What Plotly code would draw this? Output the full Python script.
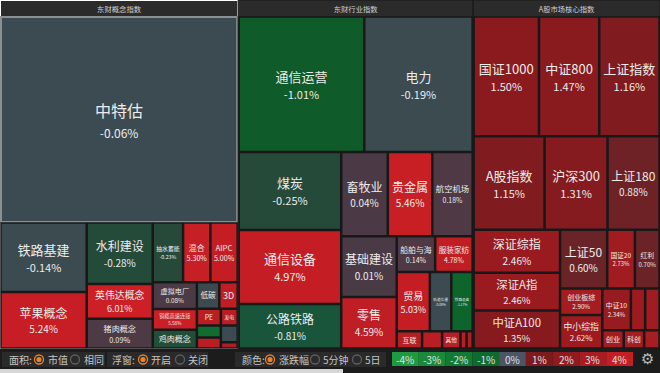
import plotly.graph_objects as go
import numpy as np

# ---------------- data ----------------
groups = ["东财概念指数", "东财行业指数", "A股市场核心指数"]

concept_names = ["中特估", "铁路基建", "苹果概念", "水利建设", "英伟达概念", "猪肉概念", "抽水蓄能",
                 "混合", "AIPC", "虚拟电厂", "铜缆高速连接", "鸡肉概念", "低碳", "3D", "PE", "",
                 "", "发电", "", ""]
concept_pct = [-0.06, -0.14, 5.24, -0.28, 6.01, 0.09, -0.23, 5.30, 5.00, 0.08, 5.58, -0.45,
               -0.10, 4.5, 4.2, -1.5, 4.0, 4.0, -0.05, 3.5]
concept_mcap = [47034, 5751, 4698, 3906, 2205, 1890, 1740, 1566, 1566, 1144, 880, 792, 572, 468,
                391, 276, 253, 272, 272, 100]

industry_names = ["通信运营", "电力", "煤炭", "通信设备", "公路铁路", "畜牧业", "贵金属", "航空机场",
                  "基础建设", "零售", "船舶与海", "服装家纺", "贸易", "轨道交通", "铁路设备", "互联",
                  "", "其他", "", ""]
industry_pct = [-1.01, -0.19, -0.25, 4.97, -0.81, 0.04, 5.46, 0.18, 0.01, 4.59, 0.14, 4.78, 5.03,
                -0.08, -1.17, 3.8, 4.0, 3.8, 4.0, 3.5]
industry_mcap = [16368, 14124, 7700, 7300, 4400, 3780, 3612, 3276, 3240, 2754, 1326, 1292, 1890,
                 1225, 1218, 418, 330, 304, 100, 100]

core_names = ["国证1000", "中证800", "上证指数", "A股指数", "沪深300", "上证180", "深证综指", "深证A指",
              "中证A100", "上证50", "国证20", "红利", "创业板综", "中小综指", "中证10", "", "",
              "创业", "科创", ""]
core_pct = [1.50, 1.47, 1.16, 1.15, 1.31, 0.88, 2.46, 2.46, 1.35, 0.60, 2.73, 0.70, 2.90, 2.62,
            2.34, 2.6, 2.7, 2.8, 2.9, 3.0]
core_mcap = [7540, 6960, 6960, 6390, 5670, 4680, 3569, 3154, 3154, 2668, 1566, 1392, 1080, 1360,
             1148, 574, 574, 378, 360, 270]

legend_ticks = ["-4%", "-3%", "-2%", "-1%", "0%", "1%", "2%", "3%", "4%"]

# ---------------- styling helpers ----------------
def hex2rgb(h):
    h = h.lstrip("#")
    return [int(h[i:i + 2], 16) for i in (0, 2, 4)]

NEG_X = [0, 0.2, 0.22, 0.5, 0.81, 1.0, 1.17, 2, 3, 4]
NEG_C = ["#3c4a51", "#3b4b50", "#26493a", "#1f4f37", "#18553a", "#0f5a29", "#0e652c",
         "#137a34", "#1a8a3a", "#1f9a40"]
POS_X = [0, 0.2, 0.6, 0.9, 1.15, 1.5, 2.5, 3, 4, 5, 6]
POS_C = ["#4a3a46", "#503944", "#6a2428", "#6e2226", "#801b1f", "#8a1a1e", "#9a1b1f",
         "#a81d21", "#b81e23", "#c41e24", "#cc2026"]

def pct_color(v):
    xs, cs = (NEG_X, NEG_C) if v < 0 else (POS_X, POS_C)
    a = abs(v)
    rgb = [int(round(np.interp(a, xs, [hex2rgb(c)[k] for c in cs]))) for k in range(3)]
    return "rgb(%d,%d,%d)" % tuple(rgb)

def font_size(area):
    if area > 20000:
        return 16, 12
    if area > 5000:
        return 13, 11
    if area > 2500:
        return 12, 10
    if area > 1000:
        return 10, 9
    return 9, 8

W, H = 660, 373
BAR = 24  # bottom control bar height in px

fig = go.Figure()
datasets = [(concept_names, concept_pct, concept_mcap),
            (industry_names, industry_pct, industry_mcap),
            (core_names, core_pct, core_mcap)]
totals = [sum(d[2]) for d in datasets]
grand = float(sum(totals))
x_edges = np.concatenate([[0], np.cumsum(totals) / grand])

for gi, (g, (names, pcts, caps)) in enumerate(zip(groups, datasets)):
    ids = ["root"]
    labels = [g]
    parents = [""]
    values = [0]
    colors = ["#2b2b2b"]
    texts = [g]
    fsizes = [10]
    fcolors = ["#cfcfcf"]
    lcolors = ["#181818"]
    lwidths = [1]
    for i, (n, p, c) in enumerate(zip(names, pcts, caps)):
        ids.append("n%d" % i)
        labels.append(n)
        parents.append("root")
        values.append(c)
        colors.append(pct_color(p))
        s1, s2 = font_size(c)
        fsizes.append(s1)
        fcolors.append("#ececec")
        if n == "":
            texts.append("")
        elif c >= 800:
            texts.append("%s<br><span style='font-size:%dpx'>%.2f%%</span>" % (n, s2, p))
        else:
            texts.append(n)
        if n == "中特估":
            lcolors.append("#8a8f92")
            lwidths.append(2)
        else:
            lcolors.append("#181818")
            lwidths.append(1.5)

    fig.add_trace(go.Treemap(
        ids=ids, labels=labels, parents=parents, values=values,
        branchvalues="remainder",
        sort=False,
        text=texts, textinfo="text",
        textposition="middle center",
        textfont=dict(family="Noto Sans CJK SC", color=fcolors, size=fsizes),
        marker=dict(colors=colors, line=dict(color=lcolors, width=lwidths),
                    pad=dict(t=17, l=1, r=1, b=1)),
        tiling=dict(pad=1, squarifyratio=1.618),
        pathbar=dict(visible=False),
        hoverinfo="skip",
        domain=dict(x=[x_edges[gi], x_edges[gi + 1]], y=[BAR / H, 1]),
    ))

# ---------------- bottom control bar ----------------
def X(px):
    return px / W
def Y(py):
    return 1 - py / H

shapes, annotations = [], []

def rect(x0, y0, x1, y1, fill):
    shapes.append(dict(type="rect", xref="paper", yref="paper", x0=X(x0), x1=X(x1),
                       y0=Y(y1), y1=Y(y0), fillcolor=fill, line=dict(width=0), layer="above"))

def text(x, y, s, color="#c4c4c4", size=10, anchor="left"):
    annotations.append(dict(x=X(x), y=Y(y), xref="paper", yref="paper", text=s, showarrow=False,
                            xanchor=anchor, yanchor="middle",
                            font=dict(family="Noto Sans CJK SC", size=size, color=color)))

def radio(cx, cy, on):
    r = 4.5
    shapes.append(dict(type="circle", xref="paper", yref="paper", x0=X(cx - r), x1=X(cx + r),
                       y0=Y(cy + r), y1=Y(cy - r),
                       line=dict(color="#e8832a" if on else "#5e5e5e", width=1.3),
                       fillcolor="rgba(0,0,0,0)", layer="above"))
    if on:
        r2 = 2.6
        shapes.append(dict(type="circle", xref="paper", yref="paper", x0=X(cx - r2), x1=X(cx + r2),
                           y0=Y(cy + r2), y1=Y(cy - r2), line=dict(width=0),
                           fillcolor="#e8832a", layer="above"))

rect(0, 349, 660, 369, "#1c1c1c")
rect(0, 369, 343, 373, "#d6d6d6")
rect(343, 369, 660, 373, "#1c1c1c")

cy = 359.5
rect(2, 352, 105, 367, "#2a2a2a")
text(7, cy, "面积:")
radio(39, cy, True)
text(46, cy, "市值")
radio(75, cy, False)
text(82, cy, "相同")

rect(107, 352, 208, 367, "#2a2a2a")
text(110, cy, "浮窗:")
radio(143, cy, True)
text(149, cy, "开启")
radio(180, cy, False)
text(186, cy, "关闭")

rect(235, 352, 386, 367, "#2a2a2a")
text(240, cy, "颜色:")
radio(270, cy, True)
text(277, cy, "涨跌幅")
radio(315, cy, False)
text(321, cy, "5分钟")
radio(357, cy, False)
text(363, cy, "5日")

leg_colors = ["#1f9a40", "#1a8a3a", "#137a34", "#0f6a2f", "#4b5566", "#7d1a1e", "#8f1b1f",
              "#a81d21", "#c21f25"]
bw = (633 - 392) / len(legend_ticks)
for i, t in enumerate(legend_ticks):
    x0 = 392 + i * bw
    rect(x0, 352, x0 + bw, 366, leg_colors[i])
    text(x0 + bw / 2, 359, t, color="#e0e0e0", size=10, anchor="center")

annotations.append(dict(x=X(647), y=Y(359), xref="paper", yref="paper", text="⚙", showarrow=False,
                        xanchor="center", yanchor="middle",
                        font=dict(family="DejaVu Sans", size=15, color="#bdbdbd")))

fig.update_layout(
    width=W, height=H,
    margin=dict(l=0, r=0, t=0, b=0),
    paper_bgcolor="#1b1b1b",
    plot_bgcolor="#1b1b1b",
    shapes=shapes,
    annotations=annotations,
    showlegend=False,
)

fig.write_html("out.html", config={"displayModeBar": False},
               post_script="document.body.style.margin='0';document.body.style.background='#1b1b1b';")
